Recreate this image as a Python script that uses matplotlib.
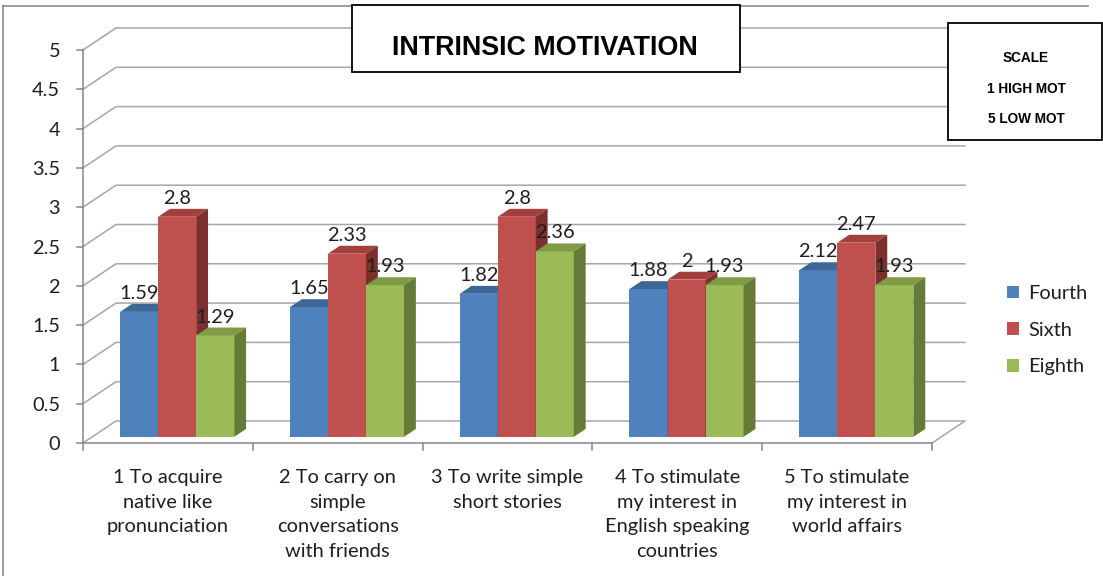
import matplotlib
matplotlib.use('Agg')
import matplotlib.pyplot as plt
from matplotlib.patches import Rectangle, Patch

# ---------------- data ----------------
categories = [
    "1 To acquire\nnative like\npronunciation",
    "2 To carry on\nsimple\nconversations\nwith friends",
    "3 To write simple\nshort stories",
    "4 To stimulate\nmy interest in\nEnglish speaking\ncountries",
    "5 To stimulate\nmy interest in\nworld affairs",
]
series_names = ["Fourth", "Sixth", "Eighth"]
fourth = [1.59, 1.65, 1.82, 1.88, 2.12]
sixth = [2.8, 2.33, 2.8, 2.0, 2.47]
eighth = [1.29, 1.93, 2.36, 1.93, 1.93]
yticks = [0, 0.5, 1, 1.5, 2, 2.5, 3, 3.5, 4, 4.5, 5]
title = "INTRINSIC MOTIVATION"
scale_lines = ["SCALE", "1 HIGH MOT", "5 LOW MOT"]

series = [fourth, sixth, eighth]
face_cols = ["#4F81BD", "#C0504D", "#9BBB59"]
top_cols = ["#3C6797", "#A3403D", "#7F9B47"]
side_cols = ["#34567F", "#7C302E", "#657B37"]

# ---------------- figure ----------------
W, H = 1103, 576
plt.rcParams['font.family'] = ['Lato', 'DejaVu Sans']
fig = plt.figure(figsize=(W / 100, H / 100), dpi=100)
fig.patch.set_facecolor('white')

def fx(p):
    return p / W

def fy(p):
    return 1 - p / H

SX, SY = 169.8, 78.6          # pixels per category / per unit
X0, Y0 = 83, 443              # front origin pixel
ax = fig.add_axes([0, 0, 1, 1])
ax.set_xlim(-X0 / SX, (W - X0) / SX)
ax.set_ylim(-(H - Y0) / SY, Y0 / SY)
ax.axis('off')

N = len(categories)
DX, DY = 33 / SX, 22 / SY      # full depth offset in data units
grid_c = "#A6A6A6"
axis_c = "#868686"
lw = 1.1
txt_c = "#1E1E1E"
fs = 14.4

# walls / gridlines
for t in yticks:
    if t == 0:
        ax.plot([0, DX, N + DX, N], [0, DY, DY, 0], color=grid_c, lw=lw, zorder=1)
    else:
        ax.plot([0, DX, N + DX], [t, t + DY, t + DY], color=grid_c, lw=lw, zorder=1)
# front axes
ax.plot([0, N], [0, 0], color=axis_c, lw=lw, zorder=2)
ax.plot([0, 0], [0, yticks[-1]], color=axis_c, lw=lw, zorder=2)
for t in yticks:
    ax.plot([-6 / SX, 0], [t, t], color=axis_c, lw=lw, zorder=2)
    ax.annotate(f"{t:g}", xy=(0, t), xytext=(-23, 0), textcoords='offset pixels',
                ha='right', va='center_baseline', fontsize=fs, color=txt_c)
for i in range(N + 1):
    ax.plot([i, i], [0, -7 / SY], color=axis_c, lw=lw, zorder=2)

# bars
f0, f1 = 0.28, 0.64
w = 0.224
ddx, ddy = (f1 - f0) * DX, (f1 - f0) * DY
labels = []
for i in range(N):
    for j, vals in enumerate(series):
        v = vals[i]
        x0 = i + 0.5 - 1.5 * w + j * w + f0 * DX
        y0 = f0 * DY
        ax.bar(x0, v, width=w, bottom=y0, align='edge', color=face_cols[j],
               lw=0, zorder=3)
        ax.fill([x0, x0 + w, x0 + w + ddx, x0 + ddx],
                [y0 + v, y0 + v, y0 + v + ddy, y0 + v + ddy],
                color=top_cols[j], lw=0, zorder=3)
        ax.fill([x0 + w, x0 + w, x0 + w + ddx, x0 + w + ddx],
                [y0, y0 + v, y0 + v + ddy, y0 + ddy],
                color=side_cols[j], lw=0, zorder=3)
        labels.append((f"{v:g}", x0 + w / 2, y0 + v + ddy))
for s, x, y in labels:
    ax.annotate(s, xy=(x, y), xytext=(0, 5), textcoords='offset pixels',
                ha='center', va='baseline', fontsize=fs, color=txt_c, zorder=5)

# category labels
for i, c in enumerate(categories):
    ax.annotate(c, xy=(i + 0.5, 0), xytext=(0, -26), textcoords='offset pixels',
                ha='center', va='top', fontsize=fs, color=txt_c, linespacing=1.54)

# outer border (top and left visible)
fig.add_artist(plt.Line2D([fx(3), fx(1088)], [fy(6), fy(6)], color="#8C8C8C", lw=1.2))
fig.add_artist(plt.Line2D([fx(3), fx(3)], [fy(6), fy(576)], color="#8C8C8C", lw=1.2))

# title box
fig.add_artist(Rectangle((fx(352), fy(72)), fx(388), 67 / H, facecolor='white',
                         edgecolor='black', lw=1.3, zorder=10))
fig.text(fx(545), fy(55), title, ha='center', va='baseline', fontsize=19.4,
         fontweight='bold', family=['Liberation Sans', 'DejaVu Sans'], zorder=11)

# scale box
fig.add_artist(Rectangle((fx(948), fy(140)), fx(154), 117 / H, facecolor='white',
                         edgecolor='black', lw=1.3, zorder=10))
for k, (s, yb) in enumerate(zip(scale_lines, [62, 93, 123])):
    fig.text(fx(1026), fy(yb), s, ha='center', va='baseline', fontsize=9.8,
             fontweight='bold', family=['Liberation Sans', 'DejaVu Sans'], zorder=11)

# legend
handles = [Patch(facecolor=c, edgecolor='none') for c in face_cols]
fig.legend(handles, series_names, loc='upper left', bbox_to_anchor=(fx(1007), fy(285)),
           frameon=False, fontsize=fs, handlelength=0.6, handleheight=0.6,
           handletextpad=0.45, labelspacing=0.98, borderpad=0, borderaxespad=0,
           labelcolor=txt_c)

fig.savefig("out.png", dpi=100, facecolor='white')
